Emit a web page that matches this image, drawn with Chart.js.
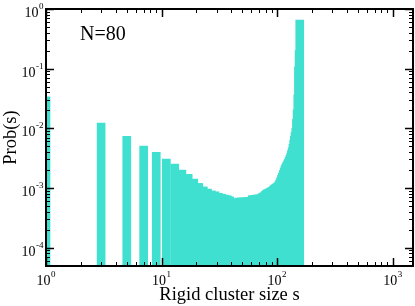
<!DOCTYPE html>
<html>
<head>
<meta charset="utf-8">
<script src="https://cdn.jsdelivr.net/npm/chart.js@4.4.1/dist/chart.umd.min.js"></script>
<style>
    html, body { margin: 0; padding: 0; background: #fff; }
    #wrap { position: relative; width: 415px; height: 306px; }
</style>
</head>
<body>
<div id="wrap"><canvas id="chart"></canvas></div>
<script>
const BAR_COLOR = '#40e0d0';
const SERIF = '"Liberation Serif", "DejaVu Serif", serif';

// rigid cluster sizes (only odd sizes occur, largest is 2N-3 = 157)
const clusterSizes = [
    1, 3, 5, 7, 9, 11, 13, 15, 17, 19,
    21, 23, 25, 27, 29, 31, 33, 35, 37, 39,
    41, 43, 45, 47, 49, 51, 53, 55, 57, 59,
    61, 63, 65, 67, 69, 71, 73, 75, 77, 79,
    81, 83, 85, 87, 89, 91, 93, 95, 97, 99,
    101, 103, 105, 107, 109, 111, 113, 115, 117, 119,
    121, 123, 125, 127, 129, 131, 133, 135, 137, 139,
    141, 143, 145, 147, 149, 151, 153, 155, 157
];
const probabilities = [
    0.0338, 0.0122, 0.00731, 0.00502, 0.00394, 0.00304, 0.00251, 0.00199, 0.00169, 0.00141,
    0.00119, 0.00104, 0.000955, 0.000891, 0.000861, 0.000813, 0.000785, 0.000759, 0.000741, 0.000708,
    0.000646, 0.000631, 0.000661, 0.000676, 0.000676, 0.000676, 0.000676, 0.000684, 0.000692, 0.000692,
    0.000741, 0.000741, 0.000750, 0.000759, 0.000759, 0.000759, 0.000776, 0.000813, 0.000832, 0.000871,
    0.000912, 0.000933, 0.000955, 0.000977, 0.00100, 0.00102, 0.00107, 0.00110, 0.00114, 0.00117,
    0.00120, 0.00126, 0.00135, 0.00148, 0.00162, 0.00178, 0.00195, 0.00214, 0.00234, 0.00251,
    0.00269, 0.00285, 0.00302, 0.00324, 0.00351, 0.00380, 0.00422, 0.00468, 0.00537, 0.00631,
    0.00741, 0.00851, 0.0100, 0.0141, 0.0204, 0.0363, 0.107, 0.20, 0.653
];

const xDecades = [1, 10, 100, 1000];
const xExponents = ['0', '1', '2', '3'];
const yDecades = [1, 0.1, 0.01, 0.001, 0.0001];
const yExponents = ['0', '-1', '-2', '-3', '-4'];
const minorSteps = [2, 3, 4, 5, 6, 7, 8, 9];

// draws "10" with a raised exponent; anchor is 'center' or 'right'
function drawPower(ctx, px, baseline, exp, anchor) {
    ctx.font = '14px ' + SERIF;
    const w1 = ctx.measureText('10').width;
    ctx.font = '9px ' + SERIF;
    const w2 = ctx.measureText(exp).width;
    const total = w1 + w2 + 0.5;
    const left = anchor === 'center' ? px - total / 2 : px - total;
    ctx.textAlign = 'left';
    ctx.textBaseline = 'alphabetic';
    ctx.font = '14px ' + SERIF;
    ctx.fillText('10', left, baseline);
    ctx.font = '9px ' + SERIF;
    ctx.fillText(exp, left + w1 + 0.5, baseline - 8);
}

const graceAxes = {
    id: 'graceAxes',
    afterDraw(chart) {
        const { ctx, chartArea: a, scales: { x, y } } = chart;
        ctx.save();
        ctx.strokeStyle = '#000';
        ctx.fillStyle = '#000';

        // tick marks on all four sides, pointing inwards
        const line = (x1, y1, x2, y2, w) => {
            ctx.lineWidth = w;
            ctx.beginPath();
            ctx.moveTo(x1, y1);
            ctx.lineTo(x2, y2);
            ctx.stroke();
        };
        xDecades.forEach(d => {
            [1, ...minorSteps].forEach(m => {
                const v = d * m;
                if (v < x.min || v > x.max) return;
                const px = Math.round(x.getPixelForValue(v)) + 0.5;
                const len = m === 1 ? 8 : 4;
                const w = m === 1 ? 1.5 : 1;
                line(px, a.bottom, px, a.bottom - len, w);
                line(px, a.top, px, a.top + len, w);
            });
        });
        yDecades.concat([0.00001]).forEach(d => {
            [1, ...minorSteps].forEach(m => {
                const v = d * m;
                if (v < y.min || v > y.max) return;
                const py = Math.round(y.getPixelForValue(v)) + 0.5;
                const len = m === 1 ? 8 : 4;
                const w = m === 1 ? 1.5 : 1;
                line(a.left, py, a.left + len, py, w);
                line(a.right, py, a.right - len, py, w);
            });
        });

        // frame
        ctx.lineWidth = 2;
        ctx.strokeRect(a.left, a.top, a.right - a.left, a.bottom - a.top);

        // tick labels
        xDecades.forEach((d, i) => {
            drawPower(ctx, x.getPixelForValue(d), a.bottom + 19, xExponents[i], 'center');
        });
        yDecades.forEach((d, i) => {
            drawPower(ctx, a.left - 2.5, y.getPixelForValue(d) + 8, yExponents[i], 'right');
        });

        // axis titles and annotation
        ctx.font = '18.5px ' + SERIF;
        ctx.textAlign = 'center';
        ctx.textBaseline = 'alphabetic';
        ctx.fillText('Rigid cluster size s', 229.5, 300);

        ctx.save();
        ctx.translate(15.5, (a.top + a.bottom) / 2);
        ctx.rotate(-Math.PI / 2);
        ctx.fillText('Prob(s)', 0, 0);
        ctx.restore();

        ctx.font = '20px ' + SERIF;
        ctx.textAlign = 'left';
        ctx.fillText('N=80', 80, 40);
        ctx.restore();
    }
};

new Chart(document.getElementById('chart'), {
    type: 'bar',
    data: {
        datasets: [{
            data: clusterSizes.map((s, i) => ({ x: s, y: probabilities[i] })),
            backgroundColor: BAR_COLOR,
            borderWidth: 0,
            barThickness: 8,
            clip: 0,
        }],
    },
    options: {
        responsive: true,
        maintainAspectRatio: false,
        animation: false,
        layout: { padding: { left: 46, top: 9, right: 2, bottom: 40 } },
        scales: {
            x: { type: 'logarithmic', min: 1, max: 1500, offset: false, display: false },
            y: { type: 'logarithmic', min: 0.000049, max: 1, display: false },
        },
        plugins: {
            legend: { display: false },
            tooltip: { enabled: false },
        },
    },
    plugins: [graceAxes],
});
</script>
</body>
</html>
